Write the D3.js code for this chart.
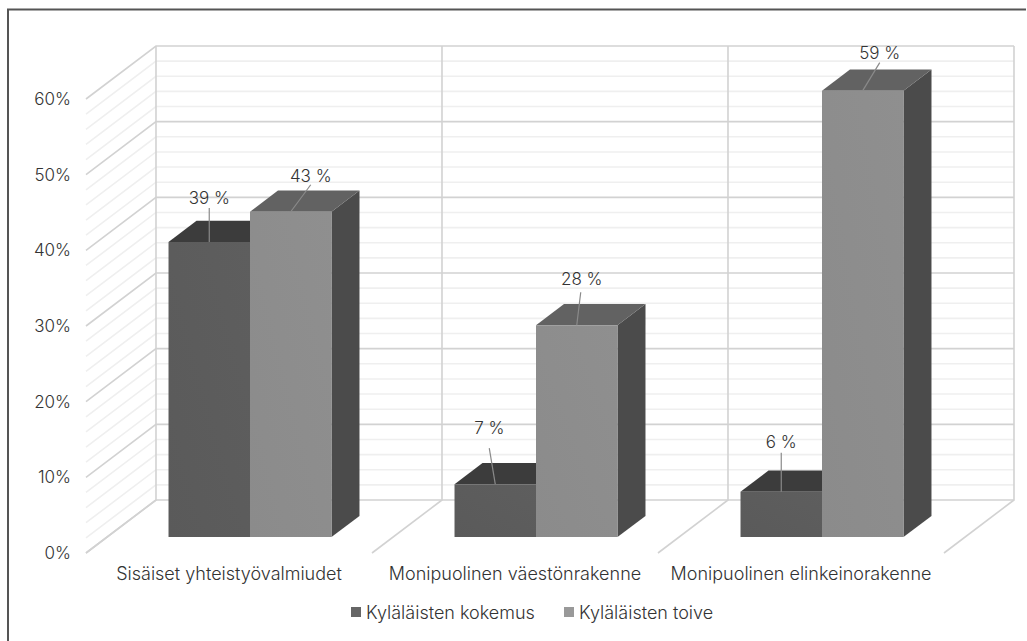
<!DOCTYPE html>
<html>
<head>
<meta charset="utf-8">
<script src="https://cdnjs.cloudflare.com/ajax/libs/d3/7.8.5/d3.min.js"></script>
<style>
  html, body { margin: 0; padding: 0; background: #fff; }
  svg { display: block; }
  text { font-family: Inter, sans-serif; font-weight: 300; fill: #333; }
</style>
</head>
<body>
<script>
var categories = ["Sisäiset yhteistyövalmiudet", "Monipuolinen väestönrakenne", "Monipuolinen elinkeinorakenne"];
var seriesNames = ["Kyläläisten kokemus", "Kyläläisten toive"];
var kokemus = [39, 7, 6];
var toive = [43, 28, 59];
var yTicks = [0, 10, 20, 30, 40, 50, 60];
var yMinorTicks = [2, 4, 6, 8, 12, 14, 16, 18, 22, 24, 26, 28, 32, 34, 36, 38, 42, 44, 46, 48, 52, 54, 56, 58];

var w = 1027, h = 641;

// front plane of the box, the back wall is shifted by (depthX, depthY)
var left = 86, right = 944, floorY = 553, topY = 99;
var depthX = 70, depthY = -53;
var barFront = 0.3, barBack = 0.7;

var y = d3.scaleLinear().domain([0, 60]).range([floorY, topY]);
var x0 = d3.scaleBand().domain(categories).range([left, right]);
var x1 = d3.scaleBand().domain(seriesNames).range([0, x0.bandwidth()]).paddingOuter(0.755).paddingInner(0);

// value + depth (0 = front, 1 = back wall) to screen
function px(xv, d) { return xv + depthX * d; }
function py(v, d) { return y(v) + depthY * d; }

var svg = d3.select("body").append("svg")
    .attr("width", w)
    .attr("height", h);

var defs = svg.append("defs");
function grad(id, a, b) {
    var g = defs.append("linearGradient").attr("id", id)
        .attr("x1", 0).attr("y1", 1).attr("x2", 1).attr("y2", 0);
    g.append("stop").attr("offset", "0%").attr("stop-color", a);
    g.append("stop").attr("offset", "100%").attr("stop-color", b);
}
grad("frontDark", "#5a5a5a", "#5e5e5e");
grad("frontLight", "#8b8b8b", "#8f8f8f");

// frame, open on the right and at the bottom
svg.append("path")
    .attr("d", "M8,641V9.5H1026")
    .attr("fill", "none")
    .attr("stroke", "#555")
    .attr("stroke-width", 2);

var grid = svg.append("g").attr("fill", "none");

function wallLines(values, color) {
    var g = grid.append("g").attr("stroke", color).attr("stroke-width", 1.6);
    g.selectAll("path")
        .data(values)
      .enter().append("path")
        .attr("d", function(v) {
            return "M" + px(left, 0) + "," + py(v, 0) +
                   "L" + px(left, 1) + "," + py(v, 1) +
                   "H" + px(right, 1);
        });
}
wallLines(yMinorTicks, "#efefef");
wallLines(yTicks, "#d2d2d2");

// category dividers, back wall and floor
var dividers = categories.map(function(c) { return x0(c); }).concat([right]);
grid.append("g").attr("stroke", "#d2d2d2").attr("stroke-width", 1.6)
  .selectAll("path")
    .data(dividers)
  .enter().append("path")
    .attr("d", function(xv) {
        return "M" + px(xv, 0) + "," + py(0, 0) +
               "L" + px(xv, 1) + "," + py(0, 1) +
               "V" + py(60, 1);
    });

// axes
var axisLeft = d3.axisLeft(y)
    .tickValues(yTicks)
    .tickSize(0)
    .tickPadding(15)
    .tickFormat(function(d) { return d + "%"; });
var axisBottom = d3.axisBottom(x0).tickSize(0).tickPadding(14);

var ga = svg.append("g").attr("transform", "translate(" + left + ",0)").call(axisLeft);
ga.select(".domain").remove();
ga.selectAll("text").attr("font-size", 17).attr("font-family", "Inter");

var gb = svg.append("g").attr("transform", "translate(0," + floorY + ")").call(axisBottom);
gb.select(".domain").remove();
gb.selectAll("text").attr("font-size", 18).attr("font-family", "Inter");

// bars
function barFaces(name, values, colors) {
    var g = svg.append("g").attr("class", "bars");
    values.forEach(function(v, i) {
        var xa = x0(categories[i]) + x1(name);
        var xb = xa + x1.bandwidth();
        function pt(xv, val, d) { return [px(xv, d), py(val, d)]; }
        var line = d3.line();

        g.append("path")   // side
            .attr("d", line([pt(xb, v, barFront), pt(xb, v, barBack), pt(xb, 0, barBack), pt(xb, 0, barFront)]) + "Z")
            .attr("fill", "#4b4b4b");
        g.append("path")   // top
            .attr("d", line([pt(xa, v, barFront), pt(xa, v, barBack), pt(xb, v, barBack), pt(xb, v, barFront)]) + "Z")
            .attr("fill", colors.top);
        g.append("path")   // front
            .attr("d", line([pt(xa, v, barFront), pt(xb, v, barFront), pt(xb, 0, barFront), pt(xa, 0, barFront)]) + "Z")
            .attr("fill", colors.front);
    });
}
barFaces(seriesNames[0], kokemus, { top: "#3c3c3c", front: "url(#frontDark)" });
barFaces(seriesNames[1], toive, { top: "#626262", front: "url(#frontLight)" });

// data labels with their leader lines: [leader dx, leader dy, text dx, baseline dy] from the bar's front top edge
var labelShift = [
    [[0, -34, 0, -38], [-6, -36, -6, -50], [0, -39, 0, -44]],
    [[20, -27, 20, -30], [4, -33, 5, -40], [17, -28, 17, -32]]
];
function dataLabels(name, values, si) {
    values.forEach(function(v, i) {
        var xc = px(x0(categories[i]) + x1(name) + x1.bandwidth() / 2, barFront);
        var yc = py(v, barFront);
        var s = labelShift[si][i];
        svg.append("line")
            .attr("x1", xc).attr("y1", yc)
            .attr("x2", xc + s[0]).attr("y2", yc + s[1])
            .attr("stroke", "#8a8a8a")
            .attr("stroke-width", 1.2);
        svg.append("text")
            .attr("x", xc + s[2]).attr("y", yc + s[3])
            .attr("text-anchor", "middle")
            .attr("font-size", 17)
            .text(v + " %");
    });
}
dataLabels(seriesNames[0], kokemus, 0);
dataLabels(seriesNames[1], toive, 1);

// legend
var legendX = d3.scaleOrdinal().domain(seriesNames).range([351, 564]);
var legendColor = d3.scaleOrdinal().domain(seriesNames).range(["#666", "#999"]);
var lg = svg.selectAll(".lg")
    .data(seriesNames)
  .enter().append("g")
    .attr("class", "lg")
    .attr("transform", function(d) { return "translate(" + legendX(d) + ",612)"; });
lg.append("rect")
    .attr("y", -5).attr("width", 10).attr("height", 10)
    .attr("fill", function(d) { return legendColor(d); });
lg.append("text")
    .attr("x", 15).attr("y", 6.5)
    .attr("font-size", 18)
    .text(String);
</script>
</body>
</html>
